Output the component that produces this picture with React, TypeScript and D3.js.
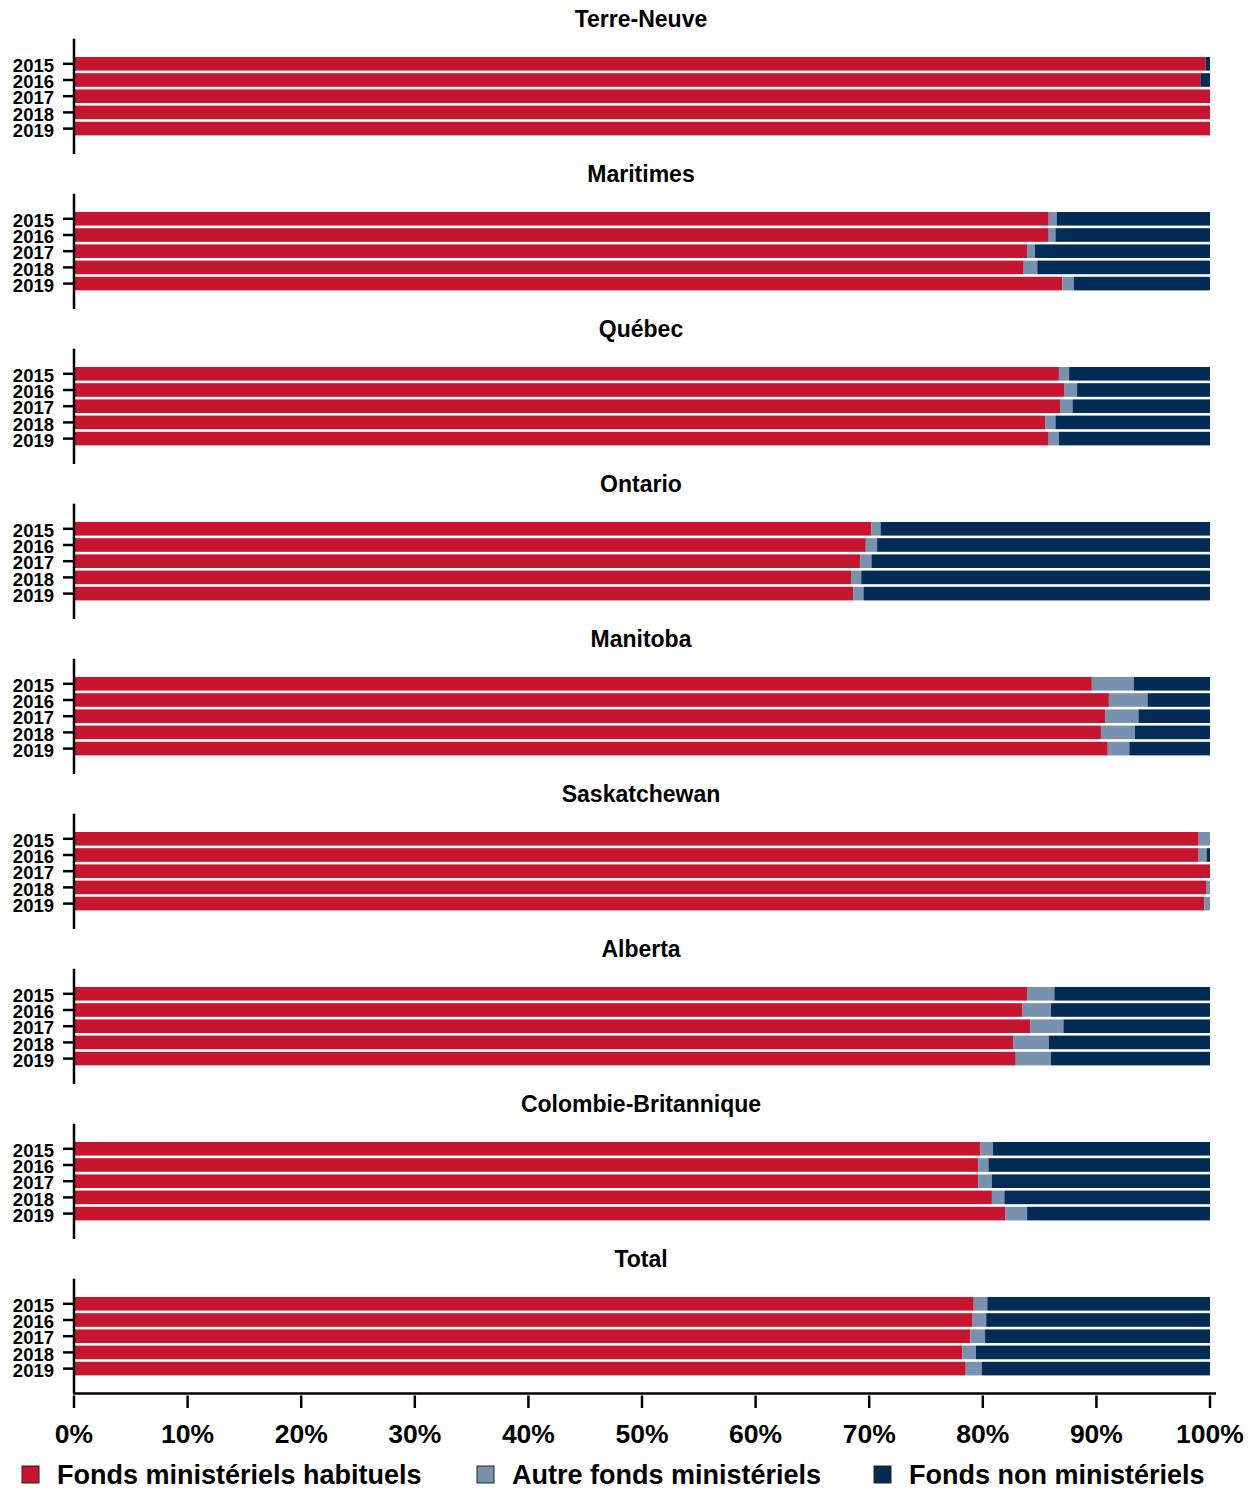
import React from "react";
import * as d3 from "d3";

const regions = [
  "Terre-Neuve",
  "Maritimes",
  "Québec",
  "Ontario",
  "Manitoba",
  "Saskatchewan",
  "Alberta",
  "Colombie-Britannique",
  "Total",
];
const years = ["2015", "2016", "2017", "2018", "2019"];

// Fonds ministériels habituels (%)
const habituels = [
  [99.6, 99.2, 100, 100, 100],
  [85.8, 85.8, 83.9, 83.6, 87.0],
  [86.7, 87.2, 86.8, 85.5, 85.8],
  [70.2, 69.7, 69.2, 68.4, 68.6],
  [89.6, 91.1, 90.8, 90.4, 91.0],
  [99.0, 99.0, 100, 99.7, 99.5],
  [83.9, 83.5, 84.2, 82.7, 82.9],
  [79.8, 79.6, 79.6, 80.8, 82.0],
  [79.2, 79.1, 78.9, 78.2, 78.5],
];
// Autre fonds ministériels (%)
const autres = [
  [0, 0, 0, 0, 0],
  [0.7, 0.6, 0.7, 1.2, 1.0],
  [0.9, 1.1, 1.1, 0.9, 0.9],
  [0.8, 1.0, 1.0, 0.9, 0.9],
  [3.7, 3.4, 2.9, 3.0, 1.9],
  [1.0, 0.7, 0, 0.3, 0.5],
  [2.4, 2.5, 2.9, 3.1, 3.1],
  [1.1, 0.9, 1.2, 1.1, 1.9],
  [1.2, 1.2, 1.3, 1.2, 1.4],
];
// Fonds non ministériels (%)
const nonMinisteriels = [
  [0.4, 0.8, 0, 0, 0],
  [13.5, 13.6, 15.4, 15.2, 12.0],
  [12.4, 11.7, 12.1, 13.6, 13.3],
  [29.0, 29.3, 29.8, 30.7, 30.5],
  [6.7, 5.5, 6.3, 6.6, 7.1],
  [0, 0.3, 0, 0, 0],
  [13.7, 14.0, 12.9, 14.2, 14.0],
  [19.1, 19.5, 19.2, 18.1, 16.1],
  [19.6, 19.7, 19.8, 20.6, 20.1],
];

const xTicks = [0, 10, 20, 30, 40, 50, 60, 70, 80, 90, 100];
const seriesKeys = ["hab", "aut", "non"];
const seriesLabels = [
  "Fonds ministériels habituels",
  "Autre fonds ministériels",
  "Fonds non ministériels",
];
const colors = ["#C5152F", "#7891AF", "#022B55"];

const FONT = "'Liberation Sans', Arial, Helvetica, sans-serif";

export default function App() {
  const W = 1255;
  const H = 1491;
  const x = d3.scaleLinear().domain([0, 100]).range([74, 1210]);
  const panelTop0 = 38.7;
  const panelStep = 155;
  const panelH = 115.3;
  const axisY = 1393.5;
  const stack = d3.stack<any>().keys(seriesKeys);

  return (
    <svg
      width={W}
      height={H}
      style={{ position: "absolute", left: 0, top: 0, background: "#fff" }}
      fontFamily={FONT}
    >
      <rect x={0} y={0} width={W} height={H} fill="#fff" />
      {regions.map((region, ri) => {
        const top = panelTop0 + panelStep * ri;
        const y = d3
          .scaleBand()
          .domain(years)
          .range([top + 17, top + 98])
          .paddingInner(0.16)
          .paddingOuter(0.08);
        const rows = years.map((yr, yi) => ({
          year: yr,
          hab: habituels[ri][yi],
          aut: autres[ri][yi],
          non: nonMinisteriels[ri][yi],
        }));
        const stacked = stack(rows);
        const bottom = ri === regions.length - 1 ? axisY : top + panelH;
        return (
          <g key={region}>
            <text
              x={641}
              y={top - 11.5}
              textAnchor="middle"
              fontWeight="bold"
              fontSize={23}
              fill="#000"
            >
              {region}
            </text>
            {stacked.map((s, si) => (
              <g key={si} fill={colors[si]}>
                {s.map((d: any, di: number) => {
                  const w = x(d[1]) - x(d[0]);
                  if (w <= 0) return null;
                  return (
                    <rect
                      key={di}
                      x={x(d[0])}
                      y={y(d.data.year)}
                      width={w}
                      height={y.bandwidth()}
                    />
                  );
                })}
              </g>
            ))}
            <line
              x1={74}
              x2={74}
              y1={top}
              y2={bottom}
              stroke="#000"
              strokeWidth={2.5}
            />
            {years.map((yr) => {
              const cy = (y(yr) as number) + y.bandwidth() / 2;
              return (
                <g key={yr}>
                  <line x1={63} x2={73} y1={cy} y2={cy} stroke="#000" strokeWidth={2.5} />
                  <text
                    x={54}
                    y={cy}
                    dy="0.44em"
                    textAnchor="end"
                    fontWeight="bold"
                    fontSize={18.5}
                    fill="#000"
                  >
                    {yr}
                  </text>
                </g>
              );
            })}
          </g>
        );
      })}
      {/* X axis */}
      <line x1={73} x2={1216} y1={axisY} y2={axisY} stroke="#000" strokeWidth={2.5} />
      {xTicks.map((t) => (
        <g key={t}>
          <line x1={x(t)} x2={x(t)} y1={1395.5} y2={1408} stroke="#000" strokeWidth={2.5} />
          <text
            x={x(t)}
            y={1443}
            textAnchor="middle"
            fontWeight="bold"
            fontSize={26.5}
            fill="#000"
          >
            {t + "%"}
          </text>
        </g>
      ))}
      {/* Legend */}
      {seriesLabels.map((lab, i) => {
        const lx = [22, 477, 874][i];
        return (
          <g key={lab}>
            <rect
              x={lx}
              y={1466}
              width={17}
              height={17}
              fill={colors[i]}
              stroke="#222"
              strokeWidth={1}
            />
            <text x={lx + 35} y={1484} fontWeight="bold" fontSize={27} fill="#000">
              {lab}
            </text>
          </g>
        );
      })}
    </svg>
  );
}
